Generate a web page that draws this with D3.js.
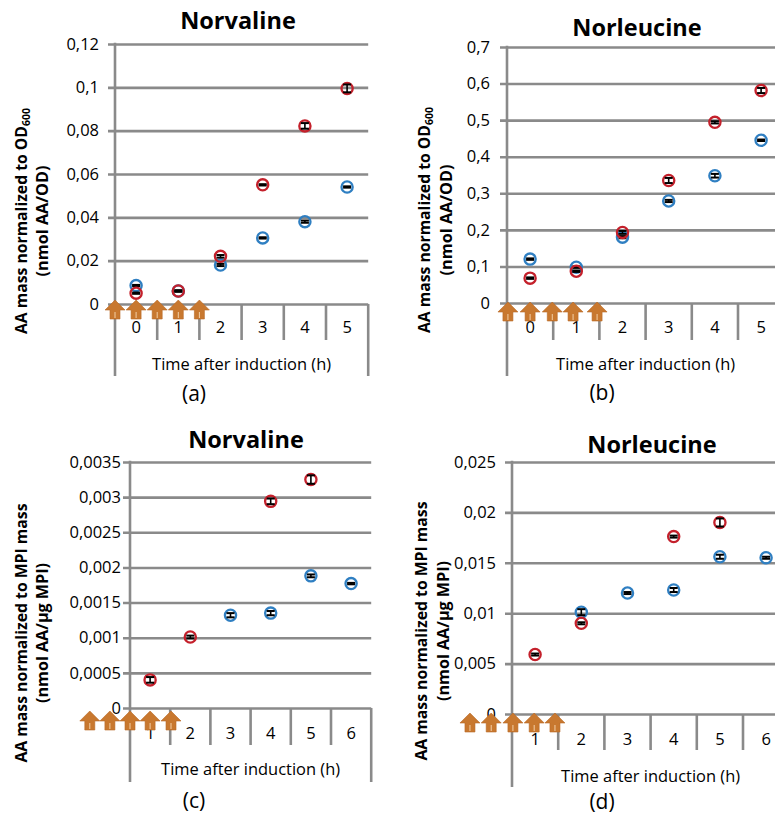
<!DOCTYPE html>
<html><head><meta charset="utf-8">
<script src="https://cdn.jsdelivr.net/npm/d3@7"></script>
<style>
body{margin:0;background:#fff}
svg{display:block}
text{font-family:"Open Sans",Lato,sans-serif;fill:#000}
</style>
</head><body>
<svg id="chart" width="775" height="816"></svg>
<script>
// ---------- DATA ----------
const hoursAB = ["0","1","2","3","4","5"];
const hoursCD = ["1","2","3","4","5","6"];

const ticksA = [0,0.02,0.04,0.06,0.08,0.1,0.12];
const ticksB = [0,0.1,0.2,0.3,0.4,0.5,0.6,0.7];
const ticksC = [0,0.0005,0.001,0.0015,0.002,0.0025,0.003,0.0035];
const ticksD = [0,0.005,0.01,0.015,0.02,0.025];

// (a) Norvaline per OD600
const norvOD_blue    = [0.0085,0.006,0.018,0.0305,0.038,0.054];
const norvOD_blueErr = [0.0003,0.0003,0.0005,0.0003,0.0005,0.0003];
const norvOD_red     = [0.005,0.006,0.022,0.055,0.0822,0.0995];
const norvOD_redErr  = [0.0003,0.0003,0.0006,0.0003,0.0013,0.0018];
// (b) Norleucine per OD600
const norlOD_blue    = [0.12,0.098,0.18,0.279,0.348,0.445];
const norlOD_blueErr = [0.002,0.002,0.003,0.003,0.005,0.002];
const norlOD_red     = [0.068,0.087,0.193,0.335,0.494,0.581];
const norlOD_redErr  = [0.002,0.002,0.004,0.007,0.003,0.007];
// (c) Norvaline per MPI mass
const norvMPI_blue    = [null,null,0.00132,0.00135,0.00188,0.00177];
const norvMPI_blueErr = [null,null,0.00003,0.00003,0.00002,0.00001];
const norvMPI_red     = [0.0004,0.00101,null,0.00294,0.00325,null];
const norvMPI_redErr  = [0.00004,0.00002,null,0.00004,0.00006,null];
// (d) Norleucine per MPI mass
const norlMPI_blue    = [null,0.0101,0.012,0.0123,0.0156,0.0155];
const norlMPI_blueErr = [null,0.0003,0.0001,0.0002,0.0002,0.0001];
const norlMPI_red     = [0.0059,0.009,null,0.0176,0.019,null];
const norlMPI_redErr  = [0.0001,0.0001,null,0.0001,0.0004,null];

// feeding arrows, in category widths from the value axis
const arrowsA = [0,0.5,1,1.5,2];
const arrowsB = [0.02,0.5,0.98,1.43,1.95];
const arrowsC = [-1,-0.5,0,0.5,1.02];
const arrowsD = [-0.91,-0.45,0.02,0.48,0.93];

// ---------- STYLE / LAYOUT ----------
const RED = "#c4202b", BLUE = "#2f7fc2", GRID = "#8a8a8a", ARROW = "#c8782f";
const fmt = d3.formatLocale({decimal:",",thousands:".",grouping:[3],currency:["",""]}).format("~g");

const panels = [
  {title:"Norvaline", cats:hoursAB, ticks:ticksA, blue:norvOD_blue, blueErr:norvOD_blueErr, red:norvOD_red, redErr:norvOD_redErr, arrows:arrowsA,
   ylab:["AA mass normalized to OD","600","(nmol AA/OD)"], letter:"(a)", yl1Len:226, yl2Len:111,
   axisX:115, catW:42.2, yZero:304, yTop:44, labelEnd:99, innerBottom:340, outerBottom:376,
   catLabelY:333, xTitleY:370, titleX:238, titleY:29, yl1:27, yl2:48, ylc:221, letterX:194, letterY:401, arrowDy:-4},
  {title:"Norleucine", cats:hoursAB, ticks:ticksB, blue:norlOD_blue, blueErr:norlOD_blueErr, red:norlOD_red, redErr:norlOD_redErr, arrows:arrowsB,
   ylab:["AA mass normalized to OD","600","(nmol AA/OD)"], letter:"(b)", yl1Len:226, yl2Len:111,
   axisX:507, catW:46.2, yZero:303, yTop:47, labelEnd:490, innerBottom:340, outerBottom:376,
   catLabelY:333, xTitleY:370, titleX:637, titleY:36, yl1:430, yl2:452, ylc:220, letterX:602, letterY:400, arrowDy:-1},
  {title:"Norvaline", cats:hoursCD, ticks:ticksC, blue:norvMPI_blue, blueErr:norvMPI_blueErr, red:norvMPI_red, redErr:norvMPI_redErr, arrows:arrowsC,
   ylab:["AA mass normalized to MPI mass",null,"(nmol AA/µg MPI)"], letter:"(c)", yl1Len:259, yl2Len:140,
   axisX:130, catW:40.2, yZero:708, yTop:462, labelEnd:121, innerBottom:745, outerBottom:782,
   catLabelY:739, xTitleY:775, titleX:246, titleY:448, yl1:27, yl2:48, ylc:633, letterX:194, letterY:808, arrowDy:3},
  {title:"Norleucine", cats:hoursCD, ticks:ticksD, blue:norlMPI_blue, blueErr:norlMPI_blueErr, red:norlMPI_red, redErr:norlMPI_redErr, arrows:arrowsD,
   ylab:["AA mass normalized to MPI mass",null,"(nmol AA/µg MPI)"], letter:"(d)", yl1Len:259, yl2Len:140,
   axisX:512, catW:46.2, yZero:714, yTop:462, labelEnd:496, innerBottom:750, outerBottom:787,
   catLabelY:745, xTitleY:782, titleX:652, titleY:453, yl1:427, yl2:449, ylc:631, letterX:602, letterY:809, arrowDy:-1}
];

const svg = d3.select("#chart");

panels.forEach(p => {
  const g = svg.append("g");
  const n = p.cats.length;
  const right = p.axisX + n * p.catW;
  const x = d3.scaleBand().domain(p.cats).range([p.axisX, right]).paddingInner(0).paddingOuter(0);
  const y = d3.scaleLinear().domain([0, d3.max(p.ticks)]).range([p.yZero, p.yTop]);
  const u = d3.scaleLinear().domain([0, 1]).range([p.axisX, p.axisX + p.catW]);

  // gridlines + tick labels
  const yAxis = d3.axisLeft(y).tickValues(p.ticks).tickFormat(fmt)
      .tickSizeInner(-(right - p.axisX + 7)).tickSizeOuter(0)
      .tickPadding((p.axisX - 7) - p.labelEnd);
  const ya = g.append("g").attr("transform", `translate(${p.axisX - 7},0)`).call(yAxis);
  ya.select(".domain").remove();
  ya.selectAll(".tick line").attr("stroke", GRID).attr("stroke-width", 2.6);
  ya.selectAll(".tick text").attr("font-family", "Open Sans").attr("font-size", 16.5).attr("fill", "#000");

  // category boundaries
  const bounds = d3.range(n + 1).map(i => p.axisX + i * p.catW);
  g.selectAll("line.bnd").data(bounds).join("line")
    .attr("x1", d => d).attr("x2", d => d)
    .attr("y1", (d, i) => i === 0 ? p.yTop - 1.3 : p.yZero)
    .attr("y2", (d, i) => (i === 0 || i === n) ? p.outerBottom : p.innerBottom)
    .attr("stroke", GRID).attr("stroke-width", 2.6);

  // category labels
  g.selectAll("text.cat").data(p.cats).join("text")
    .attr("x", d => x(d) + x.bandwidth() / 2).attr("y", p.catLabelY)
    .attr("text-anchor", "middle").attr("font-size", 16.5).text(d => d);

  // axis title
  g.append("text").attr("x", (p.axisX + right) / 2).attr("y", p.xTitleY)
    .attr("text-anchor", "middle").attr("font-size", 17)
    .attr("textLength", 179).attr("lengthAdjust", "spacingAndGlyphs").text("Time after induction (h)");

  // chart title
  g.append("text").attr("x", p.titleX).attr("y", p.titleY).attr("text-anchor", "middle")
    .attr("font-size", 23.5).attr("font-weight", 700).text(p.title);

  // y label (two lines)
  const t1 = g.append("text").attr("transform", `translate(${p.yl1},${p.ylc}) rotate(-90)`)
    .attr("text-anchor", "middle").attr("font-family", "Lato").attr("font-size", 16.5).attr("font-weight", 700)
    .attr("textLength", p.yl1Len).attr("lengthAdjust", "spacingAndGlyphs");
  t1.append("tspan").text(p.ylab[0]);
  if (p.ylab[1]) t1.append("tspan").attr("font-size", 11).attr("dy", 3).text(p.ylab[1]);
  g.append("text").attr("transform", `translate(${p.yl2},${p.ylc}) rotate(-90)`)
    .attr("text-anchor", "middle").attr("font-family", "Lato").attr("font-size", 16.5).attr("font-weight", 700)
    .attr("textLength", p.yl2Len).attr("lengthAdjust", "spacingAndGlyphs").text(p.ylab[2]);

  // panel letter
  g.append("text").attr("x", p.letterX).attr("y", p.letterY).attr("text-anchor", "middle")
    .attr("font-family", "'Liberation Serif','DejaVu Serif',serif").attr("font-size", 21).text(p.letter);

  // arrows
  const ag = g.append("g");
  p.arrows.forEach(a => {
    const cx = u(a), ty = p.yZero + p.arrowDy;
    ag.append("path")
      .attr("d", `M${cx},${ty}L${cx+10},${ty+10}L${cx+5},${ty+10}L${cx+5},${ty+19}L${cx-5},${ty+19}L${cx-5},${ty+10}L${cx-10},${ty+10}Z`)
      .attr("fill", ARROW).attr("stroke", "#b86a26").attr("stroke-width", 0.6);
    ag.append("line").attr("x1", cx).attr("x2", cx).attr("y1", ty + 12).attr("y2", ty + 18)
      .attr("stroke", "#f3cfa6").attr("stroke-width", 1);
  });

  // points with error bars
  const series = [
    {vals:p.blue, errs:p.blueErr, color:BLUE},
    {vals:p.red, errs:p.redErr, color:RED}
  ];
  series.forEach(s => {
    const pts = p.cats.map((c, i) => ({c, v:s.vals[i], e:s.errs[i]})).filter(d => d.v != null);
    const pg = g.append("g");
    pts.forEach(d => {
      const cx = x(d.c) + x.bandwidth() / 2;
      pg.append("circle").attr("cx", cx).attr("cy", y(d.v)).attr("r", 5.6)
        .attr("fill", "none").attr("stroke", s.color).attr("stroke-width", 2.3);
      const y1 = y(d.v + d.e), y2 = y(d.v - d.e);
      pg.append("line").attr("x1", cx).attr("x2", cx).attr("y1", y1).attr("y2", y2)
        .attr("stroke", "#000").attr("stroke-width", 1.6);
      [y1, y2].forEach(yy => pg.append("line").attr("x1", cx - 4).attr("x2", cx + 4)
        .attr("y1", yy).attr("y2", yy).attr("stroke", "#000").attr("stroke-width", 2));
    });
  });
});
</script>
</body></html>
